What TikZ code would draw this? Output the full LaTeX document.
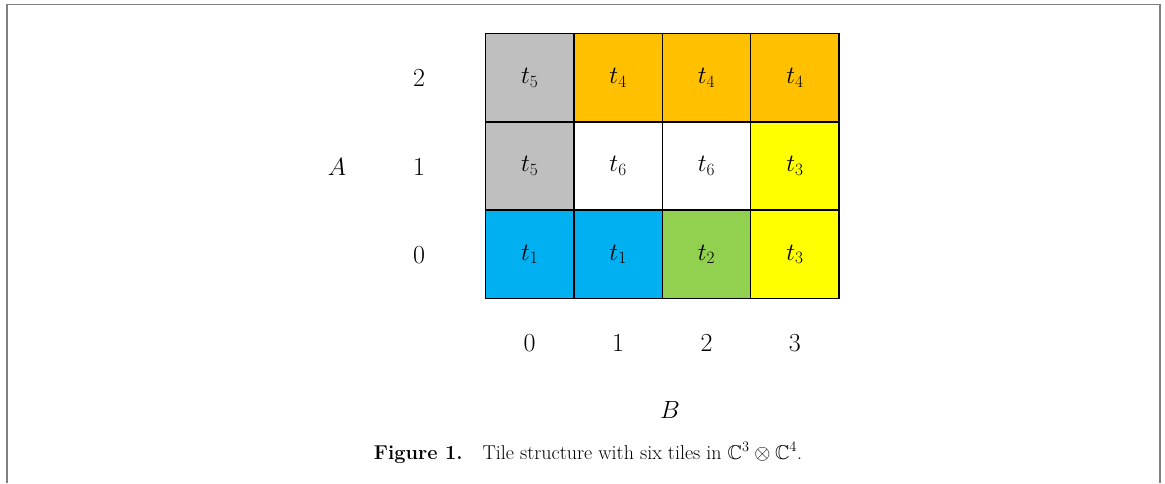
\documentclass[tikz,border=0pt]{standalone}
\usepackage{amssymb}
\definecolor{tgray}{RGB}{191,191,191}
\definecolor{torange}{RGB}{255,192,0}
\definecolor{tyellow}{RGB}{255,255,0}
\definecolor{tblue}{RGB}{0,176,240}
\definecolor{tgreen}{RGB}{146,208,80}
\definecolor{framegray}{RGB}{128,128,128}
\begin{document}
\begin{tikzpicture}[x=1pt,y=-1pt,
  cell/.style={draw=black,line width=1.5pt,minimum width=88.4pt,minimum height=88.3pt,inner sep=0pt,font=\fontsize{27}{30}\selectfont},
  lbl/.style={inner sep=0pt,font=\fontsize{26}{30}\selectfont},
  captext/.style={inner sep=0pt,font=\fontsize{20}{23}\selectfont}]
\useasboundingbox (0,0) rectangle (1165,483);
% frame
\draw[framegray,line width=1pt] (6,4.5) -- (1161,4.5);
\draw[framegray,line width=2pt] (7,4) -- (7,483);
\draw[framegray,line width=2pt] (1160,4) -- (1160,483);
% cells: row 2 (top)
\node[cell,fill=tgray]   (c02) at (529.7,77.65) {$t_5$};
\node[cell,fill=torange] (c12) at (618.1,77.65) {$t_4$};
\node[cell,fill=torange] (c22) at (706.5,77.65) {$t_4$};
\node[cell,fill=torange] (c32) at (794.9,77.65) {$t_4$};
% row 1
\node[cell,fill=tgray]   (c01) at (529.7,165.95) {$t_5$};
\node[cell,fill=white]   (c11) at (618.1,165.95) {$t_6$};
\node[cell,fill=white]   (c21) at (706.5,165.95) {$t_6$};
\node[cell,fill=tyellow] (c31) at (794.9,165.95) {$t_3$};
% row 0
\node[cell,fill=tblue]   (c00) at (529.7,254.25) {$t_1$};
\node[cell,fill=tblue]   (c10) at (618.1,254.25) {$t_1$};
\node[cell,fill=tgreen]  (c20) at (706.5,254.25) {$t_2$};
\node[cell,fill=tyellow] (c30) at (794.9,254.25) {$t_3$};
% row labels
\node[lbl] (r2) at (419,78) {2};
\node[lbl] (r1) at (419,167) {1};
\node[lbl] (r0) at (419,255) {0};
\node[lbl] (la) at (337,167) {$A$};
% column labels
\node[lbl] (k0) at (529.7,343) {0};
\node[lbl] (k1) at (618.1,343) {1};
\node[lbl] (k2) at (706.5,343) {2};
\node[lbl] (k3) at (794.9,343) {3};
\node[lbl] (lb) at (670,410) {$B$};
% caption
\node[captext] (caption) at (588,453) {\textbf{Figure 1.}\quad Tile structure with six tiles in $\mathbb{C}^3\otimes\mathbb{C}^4$.};
\end{tikzpicture}
\end{document}
